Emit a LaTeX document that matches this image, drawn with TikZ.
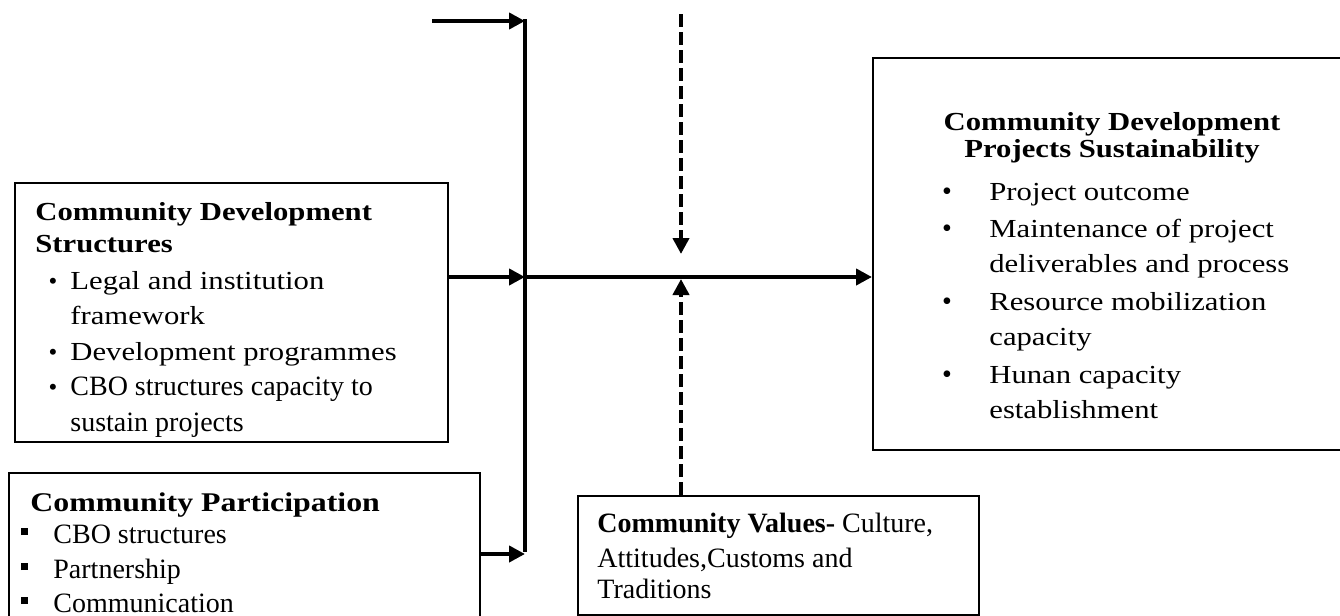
\documentclass[tikz,border=0pt]{standalone}
\usepackage{fontspec}
\setmainfont{Liberation Serif}
\newfontfamily\cambria[FakeStretch=1.18]{Liberation Serif}
\usetikzlibrary{arrows.meta}

\tikzset{
  box/.style={draw,line width=0.9pt,inner sep=0pt,anchor=north west},
  link/.style={line width=2pt,-{Triangle[length=8pt,width=8pt]}},
  dlink/.style={link,dash pattern=on 6.5pt off 2.5pt},
  headc/.style={inner sep=0pt,anchor=base west,font=\cambria\bfseries\fontsize{13}{16}\selectfont},
  itemc/.style={inner sep=0pt,anchor=base west,font=\cambria\fontsize{13}{16}\selectfont},
  itemt/.style={inner sep=0pt,anchor=base west,font=\fontsize{14}{17}\selectfont},
  dot/.style={inner sep=0pt,anchor=base,font=\fontsize{14}{17}\selectfont},
}

\begin{document}
\begin{tikzpicture}[x=0.5pt,y=-0.5pt]
  \useasboundingbox (0,0) rectangle (1340,616);
  \clip (0,0) rectangle (1340,616);

  % the four boxes
  \node[box,minimum width=216.5pt,minimum height=129.5pt] (struct) at (14,182) {};
  \node[box,minimum width=235.5pt,minimum height=84pt] (partic) at (8,472) {};
  \node[box,minimum width=200.5pt,minimum height=59.5pt] (values) at (577,495) {};
  \node[box,minimum width=244pt,minimum height=196pt] (sustain) at (872,57) {};

  % Community Development Structures
  \node[headc] (sth1) at (35,220) {Community Development};
  \node[headc] (sth2) at (35,252) {Structures};
  \foreach \txt/\yy [count=\i] in {Legal and institution/289,framework/324,Development programmes/360}
    \node[itemc] (sti\i) at (70,\yy) {\txt};
  \node[itemt] (sti4) at (70,395) {CBO structures capacity to};
  \node[itemt] (sti5) at (70,431) {sustain projects};
  \foreach \yy [count=\i] in {289,360,395}
    \node[dot,font=\fontsize{12.5}{14}\selectfont] (stb\i) at (53,\yy) {\textbullet};

  % Community Participation
  \node[headc,font=\cambria\bfseries\fontsize{13.5}{16}\selectfont] (pah) at (30,511) {Community Participation};
  \foreach \txt/\yy [count=\i] in {CBO structures/543,Partnership/578,Communication/612}{
    \node[itemt] (pai\i) at (53,\yy) {\txt};
    \node[dot] (pab\i) at (25,\yy) {\raisebox{4pt}{\rule{3.5pt}{3.5pt}}};
  }

  % Community Values
  \node[itemt] (va1) at (597,532) {\textbf{Community Values-} Culture,};
  \node[itemt] (va2) at (597,567) {Attitudes,Customs and};
  \node[itemt] (va3) at (597,598) {Traditions};

  % Community Development Projects Sustainability
  \node[headc,anchor=base] (suh1) at (1112,130) {Community Development};
  \node[headc,anchor=base] (suh2) at (1112,157) {Projects Sustainability};
  \foreach \txt/\yy [count=\i] in {Project outcome/200,Maintenance of project/237,
      deliverables and process/272,Resource mobilization/310,capacity/345,
      Hunan capacity/383,establishment/418}
    \node[itemc] (sui\i) at (989,\yy) {\txt};
  \foreach \yy [count=\i] in {200,237,310,383}
    \node[dot] (sub\i) at (947,\yy) {\textbullet};

  % connectors
  \coordinate (bartop) at (525,19);
  \coordinate (barbot) at (525,552);
  \coordinate (topin) at (432,21);
  \coordinate (mid) at (525,277);
  \coordinate (low) at (525,554);
  \coordinate (dtop) at (681,14);
  \coordinate (dtip) at (681,254);
  \coordinate (uptip) at (681,279);
  \draw[line width=2.1pt] (bartop) -- (barbot);
  \draw[link] (topin) -- (bartop |- topin);
  \draw[link] (struct.east |- mid) -- (mid);
  \draw[link] (mid) -- (sustain.west |- mid);
  \draw[link] (partic.east |- low) -- (low);
  \draw[dlink] (dtop) -- (dtip);
  \draw[dlink] (values.north -| uptip) -- (uptip);
\end{tikzpicture}
\end{document}
